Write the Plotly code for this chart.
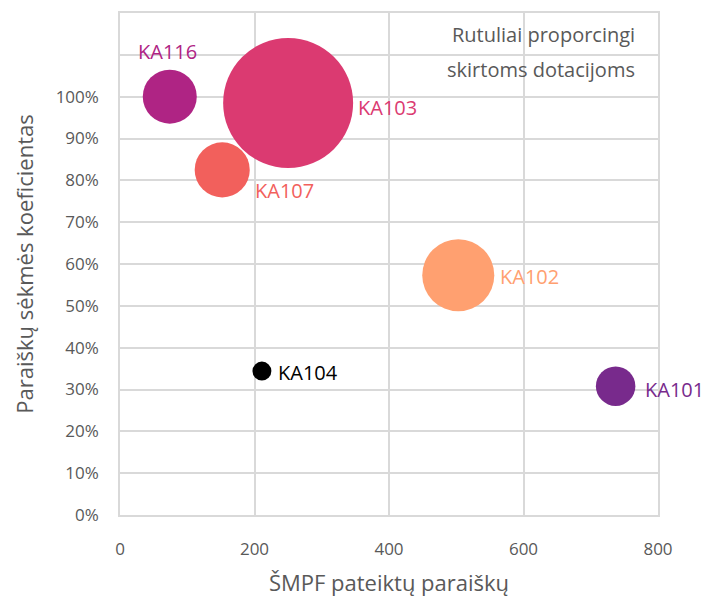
import plotly.graph_objects as go

programs = ["KA116", "KA103", "KA107", "KA102", "KA104", "KA101"]
applications = [74, 250, 152, 503, 211, 737]
success_rate = [1.00, 0.985, 0.825, 0.573, 0.344, 0.308]
grants = [7.3, 42.3, 7.6, 13.0, 0.9, 3.9]
colors = ["#AF2484", "#DB3A71", "#F2605C", "#FFA070", "#000000", "#782A8C"]
y_ticks = [i / 10 for i in range(13)]
y_labels = [f"{i * 10}%" if i <= 10 else "" for i in range(13)]

# label placement (styling only): anchor, x shift, y shift in px
label_style = {
    "KA116": ("center", -2, 45),
    "KA103": ("left", 68, -5),
    "KA107": ("left", 31, -21),
    "KA102": ("left", 40, -1),
    "KA104": ("left", 14, -1),
    "KA101": ("left", 27, -3),
}

FONT = "Open Sans, Noto Sans, sans-serif"
fig = go.Figure()
fig.add_trace(go.Scatter(
    x=applications, y=success_rate, mode="markers",
    marker=dict(size=grants, sizemode="area", sizeref=2 * 42.3 / 130 ** 2,
                color=colors, opacity=1, line=dict(width=0)),
    cliponaxis=False, showlegend=False, hoverinfo="skip",
))
for name, xv, yv, col in zip(programs, applications, success_rate, colors):
    anchor, dx, dy = label_style[name]
    fig.add_annotation(x=xv, y=yv, text=name, showarrow=False, xanchor=anchor,
                       yanchor="middle", xshift=dx, yshift=dy,
                       font=dict(family=FONT, size=20, color=col))

grid = "#D9D9D9"
tickfont = dict(family=FONT, size=17, color="#595959")
fig.update_layout(
    width=720, height=601,
    margin=dict(l=120, r=62, t=13, b=86),
    paper_bgcolor="white", plot_bgcolor="white",
    xaxis=dict(range=[0, 800], tickvals=[0, 200, 400, 600, 800], showgrid=True,
               gridcolor=grid, gridwidth=1.5, showline=True, linecolor=grid, linewidth=1.5,
               mirror=True, automargin=False,
               zeroline=False, tickfont=tickfont, ticks="outside", ticklen=18,
               tickcolor="rgba(0,0,0,0)",
               title=dict(text="ŠMPF pateiktų paraiškų", standoff=16,
                          font=dict(family=FONT, size=22, color="#595959"))),
    yaxis=dict(range=[0, 1.2], tickvals=y_ticks, ticktext=y_labels,
               showgrid=True, gridcolor=grid, gridwidth=1.5, showline=True, linecolor=grid,
               linewidth=1.5, mirror=True, zeroline=False, automargin=False,
               tickfont=tickfont, ticks="outside", ticklen=16,
               tickcolor="rgba(0,0,0,0)",
               title=dict(text="Paraiškų sėkmės koeficientas", standoff=16,
                          font=dict(family=FONT, size=22, color="#595959"))),
)
for txt, yp in [("Rutuliai proporcingi", 0.957), ("skirtoms dotacijoms", 0.888)]:
    fig.add_annotation(x=0.961, y=yp, xref="paper", yref="paper", xanchor="right",
                       yanchor="middle", align="right", showarrow=False, text=txt,
                       font=dict(family=FONT, size=20, color="#595959"))
fig.write_html("out.html", config={"displayModeBar": False},
               post_script="document.body.style.margin='0';")
